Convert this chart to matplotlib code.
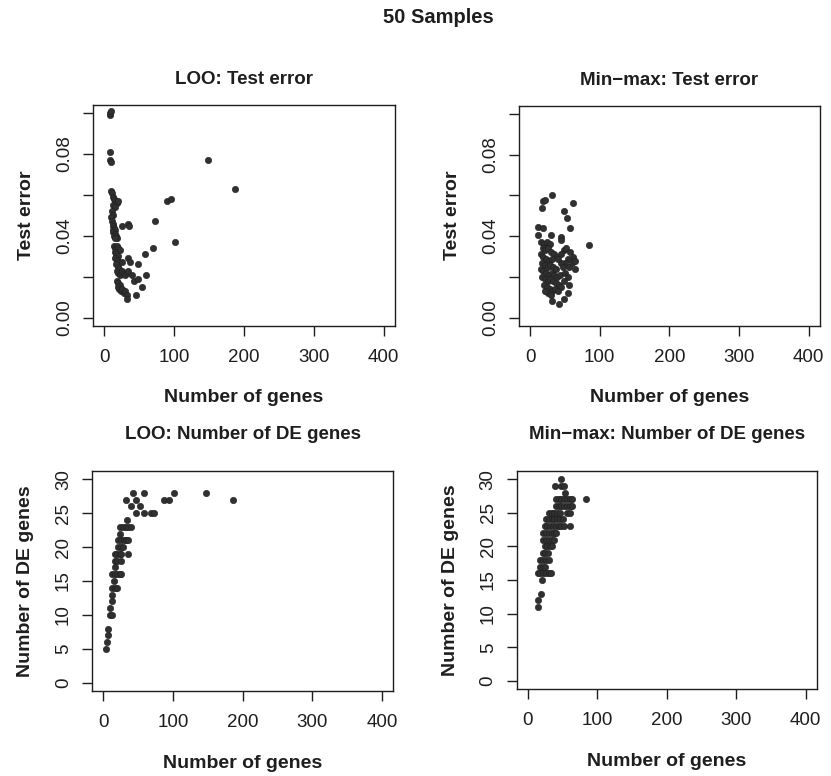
import matplotlib.pyplot as plt

plt.rcParams['font.family'] = ['Liberation Sans', 'DejaVu Sans']

# LOO: test error vs number of genes
loo_err_genes = [8, 8, 9, 8, 8, 9, 10, 11, 12, 14, 16, 18, 20, 13, 15, 90, 95,
                 11, 12, 10, 73, 25, 34, 36, 11, 12, 13, 14, 12, 15, 13, 16, 14,
                 17, 18, 15, 102, 70, 59, 14, 16, 18, 20, 22, 15, 17, 19, 16, 18,
                 20, 17, 19, 21, 18, 20, 22, 24, 26, 28, 30, 32, 34, 34, 37, 48,
                 26, 40, 60, 42, 48, 54, 18, 20, 22, 19, 21, 24, 26, 28, 30, 32,
                 45, 33, 149, 187]
loo_err = [0.099, 0.100, 0.101, 0.081, 0.077, 0.076, 0.062, 0.061, 0.059, 0.058,
           0.057, 0.056, 0.057, 0.055, 0.054, 0.057, 0.058, 0.052, 0.050, 0.049,
           0.047, 0.045, 0.046, 0.045, 0.047, 0.046, 0.045, 0.044, 0.043, 0.043,
           0.042, 0.041, 0.040, 0.040, 0.039, 0.039, 0.037, 0.034, 0.031, 0.035,
           0.034, 0.035, 0.034, 0.033, 0.032, 0.031, 0.030, 0.029, 0.028, 0.027,
           0.026, 0.025, 0.024, 0.023, 0.022, 0.021, 0.022, 0.023, 0.022, 0.021,
           0.022, 0.023, 0.029, 0.027, 0.026, 0.027, 0.021, 0.021, 0.018, 0.019,
           0.015, 0.018, 0.017, 0.016, 0.015, 0.014, 0.013, 0.014, 0.012, 0.013,
           0.011, 0.011, 0.009, 0.077, 0.063]

# Min-max: test error vs number of genes
mm_err_genes = [31, 19, 22, 17, 62, 49, 53, 12, 19, 57, 12, 30, 44, 45, 84, 49,
                16, 20, 24, 28, 18, 22, 26, 30, 34, 38, 15, 19, 23, 27, 31, 17,
                21, 25, 29, 33, 37, 15, 19, 23, 27, 31, 35, 39, 43, 17, 21, 25,
                29, 33, 37, 41, 45, 20, 24, 28, 32, 26, 22, 30, 36, 40,
                52, 58, 62, 55, 60, 65, 50, 56, 65, 44, 47, 50, 55, 48, 56, 54,
                49, 41, 31, 44, 40]
mm_err = [0.060, 0.057, 0.0575, 0.054, 0.056, 0.0525, 0.049, 0.0447, 0.044, 0.044,
          0.0408, 0.0408, 0.0398, 0.038, 0.0359, 0.033,
          0.037, 0.036, 0.037, 0.036, 0.034, 0.033, 0.034, 0.032, 0.031, 0.030,
          0.031, 0.030, 0.029, 0.028, 0.029, 0.027, 0.026, 0.025, 0.026, 0.025,
          0.024, 0.024, 0.023, 0.022, 0.021, 0.022, 0.021, 0.020, 0.021, 0.020,
          0.019, 0.018, 0.019, 0.018, 0.017, 0.016, 0.015, 0.016, 0.015, 0.014,
          0.013, 0.012, 0.013, 0.011, 0.014, 0.013,
          0.034, 0.032, 0.030, 0.029, 0.027, 0.028, 0.027, 0.025, 0.024, 0.027,
          0.025, 0.022, 0.020, 0.018, 0.016, 0.012, 0.0093, 0.0069, 0.0082,
          0.031, 0.029]

# LOO: number of DE genes vs number of genes
loo_de_genes = [43, 58, 101, 148, 32, 47, 87, 94, 186, 39, 52, 47, 58, 68, 72,
                34, 24, 28, 32, 36, 39, 24, 21, 25, 29, 33, 35, 21, 25, 28, 16,
                20, 24, 26, 35, 16, 20, 25, 16, 12, 16, 20, 24, 26, 15, 13, 16,
                20, 12, 12, 10, 10, 13, 7, 6, 5, 4]
loo_de = [28, 28, 28, 28, 27, 27, 27, 27, 27, 26, 26, 25, 25, 25, 25,
          24, 23, 23, 23, 23, 23, 22, 21, 21, 21, 21, 21, 20, 20, 20, 19,
          19, 19, 19, 19, 18, 18, 18, 17, 16, 16, 16, 16, 16, 15, 14, 14,
          14, 13, 12, 11, 10, 10, 8, 7, 6, 5]

# Min-max: number of DE genes vs number of genes
mm_de_genes = [48, 39, 47, 52, 54, 40, 44, 48, 52, 56, 60, 64, 83,
               40, 44, 48, 52, 56, 60, 64, 30, 34, 38, 42, 46, 56, 60,
               26, 30, 34, 38, 42, 46, 50, 24, 28, 32, 36, 40, 44, 48, 52, 60,
               22, 26, 30, 34, 38, 41, 22, 26, 30, 34, 37, 24, 28, 32, 35,
               21, 25, 29, 18, 22, 26, 30, 17, 21, 25, 14, 18, 22, 26, 30, 33,
               20, 19, 14, 14]
mm_de = [30, 29, 29, 29, 28, 27, 27, 27, 27, 27, 27, 27, 27,
         26, 26, 26, 26, 26, 26, 26, 25, 25, 25, 25, 25, 25, 25,
         24, 24, 24, 24, 24, 24, 24, 23, 23, 23, 23, 23, 23, 23, 23, 23,
         22, 22, 22, 22, 22, 22, 21, 21, 21, 21, 21, 20, 20, 20, 20,
         19, 19, 19, 18, 18, 18, 18, 17, 17, 17, 16, 16, 16, 16, 16, 16,
         15, 13, 12, 11]

x_ticks = [0, 100, 200, 300, 400]
err_ticks = [0.00, 0.02, 0.04, 0.06, 0.08, 0.10]
err_labels = ['0.00', '', '0.04', '', '0.08', '']
de_ticks = [0, 5, 10, 15, 20, 25, 30]

ink = '#1e1e1e'
dot = '#303030'

fig = plt.figure(figsize=(8.31, 7.76), dpi=100)
fig.text(0.528, 0.9775, '50 Samples', ha='center', va='center',
         fontsize=14.5, fontweight='bold', color=ink)

panels = [
    ([0.112, 0.580, 0.363, 0.285], loo_err_genes, loo_err, 'LOO: Test error', 'Test error', 'err', 15),
    ([0.6245, 0.580, 0.362, 0.284], mm_err_genes, mm_err, 'Min\u2212max: Test error', 'Test error', 'err', 15),
    ([0.111, 0.1095, 0.362, 0.2835], loo_de_genes, loo_de, 'LOO: Number of DE genes', 'Number of DE genes', 'de', 23),
    ([0.622, 0.112, 0.361, 0.281], mm_de_genes, mm_de, 'Min\u2212max: Number of DE genes', 'Number of DE genes', 'de', 23),
]

for rect, xs, ys, title, ylab, kind, tpad in panels:
    ax = fig.add_axes(rect)
    ax.scatter(xs, ys, s=21, color=dot, edgecolors=ink, linewidths=0.4, zorder=3)
    ax.set_xlim(-16, 416)
    ax.set_xticks(x_ticks)
    if kind == 'err':
        ax.set_ylim(-0.004, 0.104)
        ax.set_yticks(err_ticks)
        ax.set_yticklabels(err_labels)
    else:
        ax.set_ylim(-1.2, 31.2)
        ax.set_yticks(de_ticks)
    for sp in ax.spines.values():
        sp.set_linewidth(1.0)
        sp.set_color(ink)
    ax.tick_params(direction='out', length=7.5, width=1.0, color=ink,
                   labelsize=13.5, labelcolor=ink)
    ax.tick_params(axis='x', pad=9)
    ax.tick_params(axis='y', pad=7)
    for lab in ax.get_yticklabels():
        lab.set_rotation(90)
        lab.set_va('center')
    ax.set_title(title, fontsize=13.5, fontweight='bold', color=ink, pad=tpad)
    ax.set_xlabel('Number of genes', fontsize=14, fontweight='bold', color=ink, labelpad=17)
    ax.set_ylabel(ylab, fontsize=14, fontweight='bold', color=ink, labelpad=15)

fig.savefig('out.png', dpi=100)
